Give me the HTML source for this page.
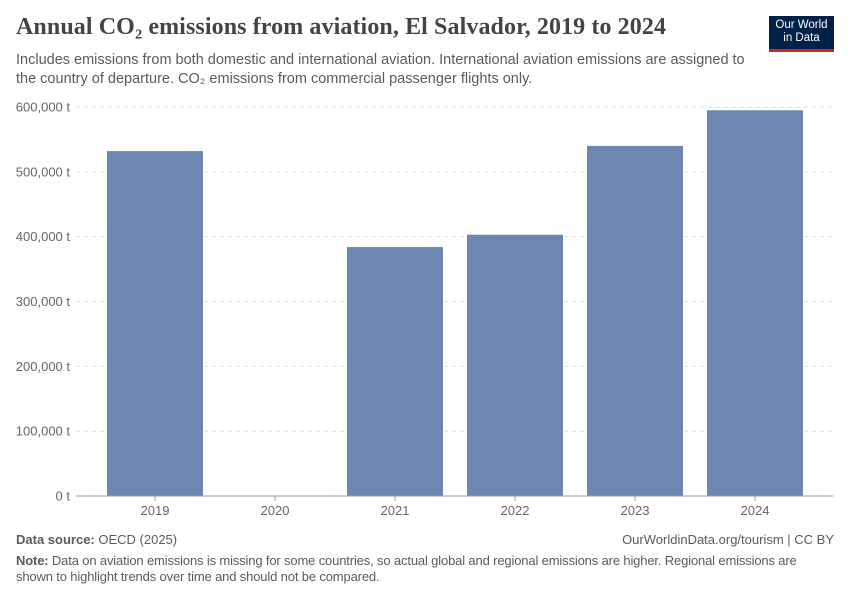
<!DOCTYPE html>
<html><head><meta charset="utf-8"><style>
body{margin:0;width:850px;height:600px;background:#fff;font-family:"Liberation Sans",sans-serif;position:relative;overflow:hidden}
.t{position:absolute;margin:0}
</style></head><body>
<h1 class="t" style="left:16px;top:14px;font-family:'Liberation Serif',serif;font-size:24px;font-weight:bold;color:#444;letter-spacing:0.1px">Annual CO₂ emissions from aviation, El Salvador, 2019 to 2024</h1>
<p class="t" style="left:16px;top:51px;width:740px;font-size:14.5px;line-height:19px;color:#5b5b5b">Includes emissions from both domestic and international aviation. International aviation emissions are assigned to the country of departure. CO₂ emissions from commercial passenger flights only.</p>
<div style="position:absolute;left:769px;top:16px;width:65px;height:36px;background:#002147;border-bottom:3px solid #ce261e;color:#fff;font-size:11.5px;line-height:13px;text-align:center;padding-top:3px;box-sizing:border-box">Our World<br>in Data</div>
<svg id="chart" width="850" height="600" style="position:absolute;left:0;top:0"></svg>
<p class="t" style="left:16px;top:532px;font-size:13px;color:#5b5b5b"><b>Data source:</b> OECD (2025)</p>
<p class="t" style="right:16px;top:532px;font-size:13px;color:#5b5b5b">OurWorldinData.org/tourism | CC BY</p>
<p class="t" style="left:16px;top:553px;width:800px;font-size:13px;line-height:16px;color:#5b5b5b;letter-spacing:-0.15px"><b>Note:</b> Data on aviation emissions is missing for some countries, so actual global and regional emissions are higher. Regional emissions are shown to highlight trends over time and should not be compared.</p>
<script>
const categories=["2019","2020","2021","2022","2023","2024"];
const values=[532000,null,384000,403000,540000,595000];
const tickValues=[0,100000,200000,300000,400000,500000,600000];
const tickLabels=["0 t","100,000 t","200,000 t","300,000 t","400,000 t","500,000 t","600,000 t"];
const svg=document.getElementById('chart');const NS='http://www.w3.org/2000/svg';
const y0=496,y1=107,xl=95,band=120,bw=96;
const y=v=>y0-(v/600000)*(y0-y1);
const x=i=>xl+i*band+(band-bw)/2;
function mk(t,a){const e=document.createElementNS(NS,t);for(const k in a)e.setAttribute(k,a[k]);svg.appendChild(e);return e;}
tickValues.forEach((v,i)=>{
 if(v>0){const g=mk('line',{x1:76,x2:833,y1:y(v),y2:y(v),stroke:'#ddd','stroke-dasharray':'4,4'});
 
 }
 const t=mk('text',{x:70,y:y(v)+4.5,'text-anchor':'end','font-size':13,fill:'#666'});t.textContent=tickLabels[i];
 
 
});
values.forEach((v,i)=>{
 if(v!=null){const r=mk('rect',{x:x(i),y:y(v),width:bw,height:y0-y(v),fill:'#6d87b0'});
 
 }
 const tk=mk('line',{x1:xl+i*band+band/2,x2:xl+i*band+band/2,y1:y0,y2:y0+5,stroke:'#999'});
 
 
 const t=mk('text',{x:xl+i*band+band/2,y:y0+19,'text-anchor':'middle','font-size':13,fill:'#666'});t.textContent=categories[i];
 
 
});
const ax=mk('line',{x1:76,x2:833,y1:y0,y2:y0,stroke:'#999'});


</script>
</body></html>
